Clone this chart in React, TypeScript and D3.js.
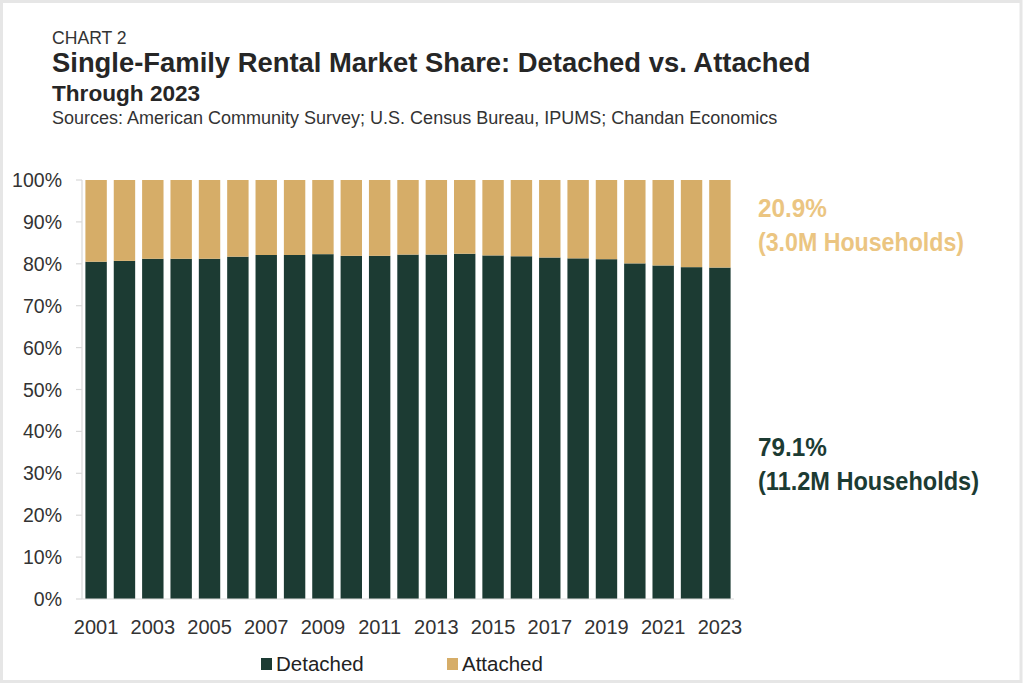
import React from "react";
import * as d3 from "d3";

const years = [
  "2001","2002","2003","2004","2005","2006","2007","2008","2009","2010","2011","2012",
  "2013","2014","2015","2016","2017","2018","2019","2020","2021","2022","2023",
];
const detached = [
  80.5, 80.7, 81.2, 81.2, 81.2, 81.7, 82.1, 82.1, 82.3, 81.9, 81.9, 82.2,
  82.2, 82.4, 82.0, 81.8, 81.5, 81.3, 81.1, 80.1, 79.6, 79.2, 79.1,
];
const attached = detached.map((d) => +(100 - d).toFixed(1));
const yTicks = [0, 10, 20, 30, 40, 50, 60, 70, 80, 90, 100];
const xTickLabels = years.filter((_, i) => i % 2 === 0);
const seriesNames = ["Detached", "Attached"];

const DARK = "#1c3b33";
const GOLD = "#d6ad68";
const GOLD_TEXT = "#ebc581";
const FONT = "'Liberation Sans', Arial, Helvetica, sans-serif";

export default function App() {
  const W = 1024;
  const H = 686;
  const x = d3.scaleBand<string>().domain(years).range([82, 734]).paddingInner(0.245).paddingOuter(0.12);
  const y = d3.scaleLinear().domain([0, 100]).range([599, 180]);
  const rows = years.map((yr, i) => ({ year: yr, Detached: detached[i], Attached: attached[i] }));
  const stack = d3.stack<any>().keys(seriesNames)(rows);
  const colors = [DARK, GOLD];
  const last = years.length - 1;
  const ann = { fontSize: 25, fontWeight: "bold" as const, lengthAdjust: "spacingAndGlyphs" as const };

  return (
    <svg width={W} height={H} style={{ position: "absolute", left: 0, top: 0, background: "#fff" }} fontFamily={FONT}>
      <rect x={1.5} y={1.5} width={1019.5} height={680} fill="#fff" stroke="#e6e6e6" strokeWidth={3} />
      <text x={52} y={44} fontSize={17.6} fill="#333">CHART 2</text>
      <text x={52} y={72} fontSize={27.4} fontWeight="bold" fill="#262626">Single-Family Rental Market Share: Detached vs. Attached</text>
      <text x={52} y={101} fontSize={22.6} fontWeight="bold" fill="#262626">Through 2023</text>
      <text x={52} y={124} fontSize={18} fill="#333">Sources: American Community Survey; U.S. Census Bureau, IPUMS; Chandan Economics</text>

      {stack.map((s, si) => (
        <g key={seriesNames[si]} fill={colors[si]}>
          {s.map((d, i) => (
            <rect key={i} x={x(years[i])} y={y(d[1])} width={x.bandwidth()} height={y(d[0]) - y(d[1])} />
          ))}
        </g>
      ))}

      <line x1={82} x2={82} y1={180} y2={599} stroke="#d9d9d9" strokeWidth={1.2} />
      <line x1={82} x2={734} y1={599} y2={599} stroke="#d9d9d9" strokeWidth={1.2} />
      {yTicks.map((t) => (
        <g key={t}>
          <line x1={76} x2={82} y1={y(t)} y2={y(t)} stroke="#d9d9d9" strokeWidth={1.2} />
          <text x={62} y={y(t)} dy="0.36em" textAnchor="end" fontSize={19.5} fill="#333">{t}%</text>
        </g>
      ))}
      {xTickLabels.map((yr) => (
        <text key={yr} x={(x(yr) as number) + x.bandwidth() / 2} y={634} textAnchor="middle" fontSize={20} fill="#333">{yr}</text>
      ))}

      <text x={758} y={217} {...ann} fill={GOLD_TEXT} textLength={69}>{attached[last].toFixed(1)}%</text>
      <text x={758} y={251} {...ann} fill={GOLD_TEXT} textLength={206}>(3.0M Households)</text>
      <text x={758} y={456} {...ann} fill={DARK} textLength={69}>{detached[last].toFixed(1)}%</text>
      <text x={758} y={490} {...ann} fill={DARK} textLength={221}>(11.2M Households)</text>

      <rect x={261} y={658} width={11} height={12} fill={DARK} />
      <text x={276} y={671} fontSize={20.5} fill="#222">{seriesNames[0]}</text>
      <rect x={447} y={658} width={11} height={12} fill={GOLD} />
      <text x={462} y={671} fontSize={20.5} fill="#222">{seriesNames[1]}</text>
    </svg>
  );
}
